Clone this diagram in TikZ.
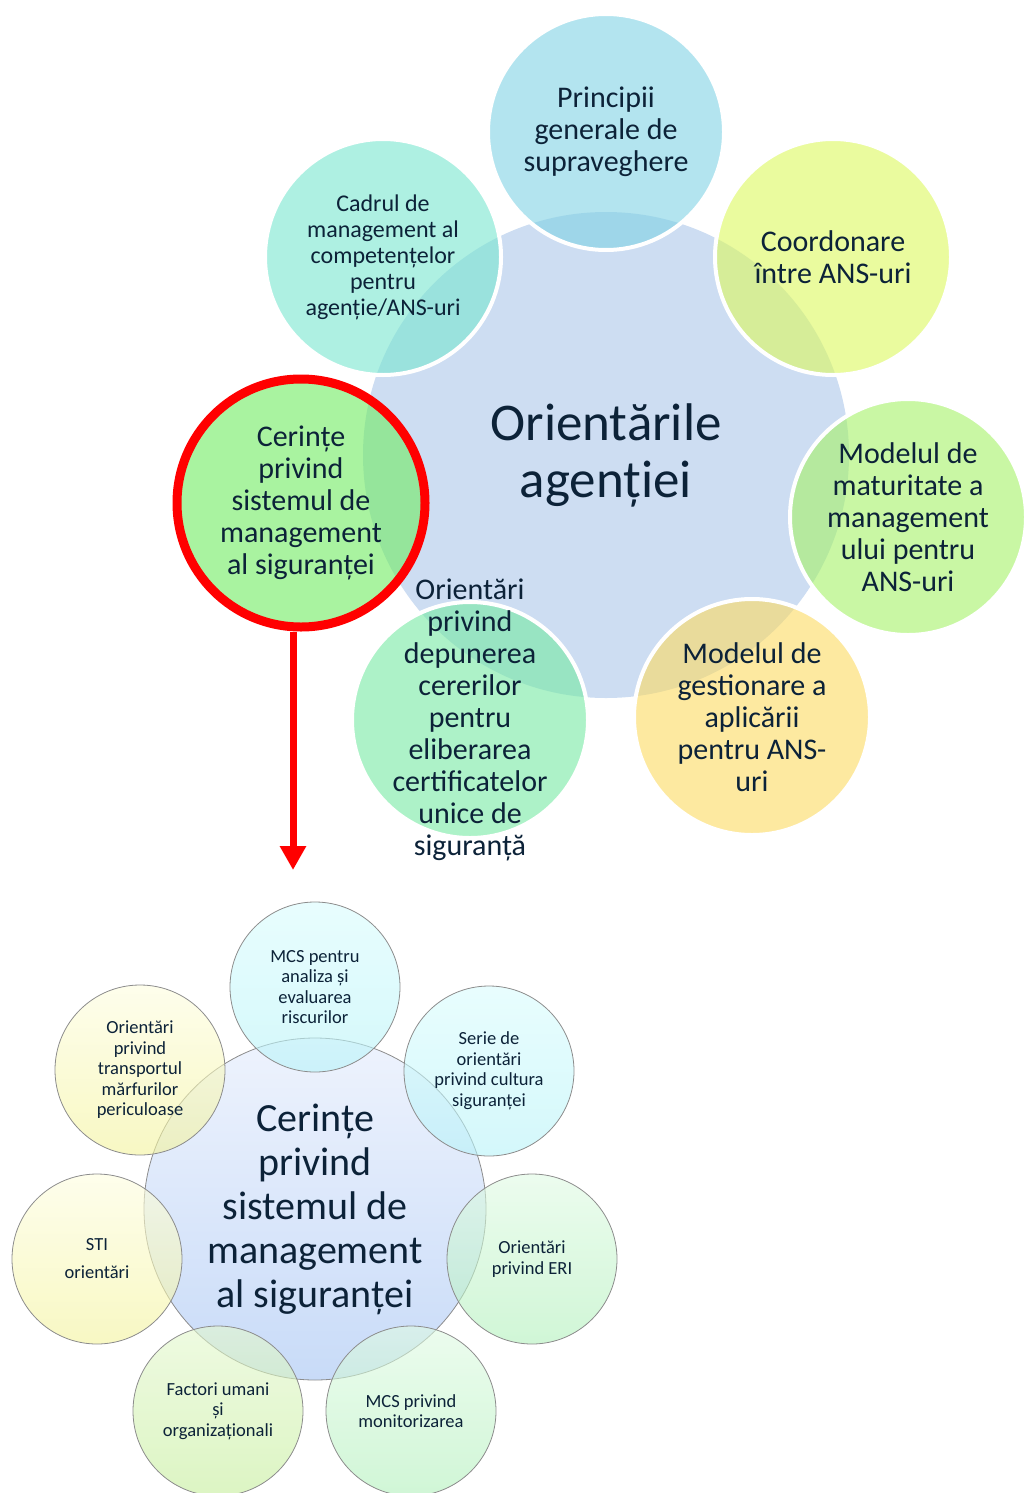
\documentclass[tikz,border=0pt]{standalone}
\usepackage{fontspec}
\setmainfont{Carlito}
\usetikzlibrary{positioning,arrows.meta}

\definecolor{ink}{RGB}{12,34,56}
\definecolor{hubfill}{RGB}{205,221,242}
\definecolor{cprincipii}{RGB}{128,210,228}
\definecolor{ccoord}{RGB}{220,248,93}
\definecolor{cmaturitate}{RGB}{165,242,103}
\definecolor{cgestionare}{RGB}{252,218,97}
\definecolor{cdepunere}{RGB}{118,233,163}
\definecolor{ccerinte}{RGB}{112,235,97}
\definecolor{ccadrul}{RGB}{120,230,207}
\definecolor{smshubtop}{RGB}{238,243,253}
\definecolor{smshubbot}{RGB}{200,219,248}
\definecolor{cyantop}{RGB}{217,252,253}
\definecolor{cyanbot}{RGB}{183,243,248}
\definecolor{greentop}{RGB}{223,250,227}
\definecolor{greenbot}{RGB}{177,240,187}
\definecolor{limetop}{RGB}{227,247,205}
\definecolor{limebot}{RGB}{197,238,155}
\definecolor{yellowtop}{RGB}{253,253,223}
\definecolor{yellowbot}{RGB}{243,243,155}
\definecolor{rim}{RGB}{140,140,140}

\begin{document}
\begin{tikzpicture}[x=1pt,y=-1pt,
    bubble/.style={circle, inner sep=0pt, minimum size=236pt, draw=white, line width=4pt, fill opacity=0.6, draw opacity=1},
    smallbubble/.style={circle, inner sep=0pt, minimum size=170pt, draw=rim, line width=0.8pt, fill opacity=0.6, draw opacity=1},
    label/.style={align=center, text=ink, inner sep=0pt, font=\fontsize{30}{32}\selectfont},
    smalllabel/.style={align=center, text=ink, inner sep=0pt, font=\fontsize{18.5}{20.5}\selectfont}]
    \useasboundingbox (0,0) rectangle (1023,1493);

    % agency guidelines
    \node[circle, inner sep=0pt, fill=hubfill, minimum size=486pt] (hub) at (606,455) {};
    \node[bubble, fill=cprincipii] (principii) at (606,132) {};
    \node[bubble, fill=ccoord] (coord) at (833,257) {};
    \node[bubble, fill=cmaturitate] (maturitate) at (908,517) {};
    \node[bubble, fill=cgestionare] (gestionare) at (752,717) {};
    \node[bubble, fill=cdepunere] (depunere) at (470,720) {};
    \node[bubble, fill=ccadrul] (cadrul) at (383,257) {};
    \node[bubble, fill=ccerinte, draw=red, line width=9pt, minimum size=248pt] (cerinte) at (301,503) {};

    \node[label, font=\fontsize{53}{57}\selectfont] (hub-t) at (hub) {Orientările\\agenției};
    \node[label] (principii-t) at (principii) {Principii\\generale de\\supraveghere};
    \node[label] (coord-t) at (coord) {Coordonare\\între ANS-uri};
    \node[label] (maturitate-t) at (maturitate) {Modelul de\\maturitate a\\management\\ului pentru\\ANS-uri};
    \node[label] (gestionare-t) at (gestionare) {Modelul de\\gestionare a\\aplicării\\pentru ANS-\\uri};
    \node[label] (depunere-t) at (depunere) {Orientări\\privind\\depunerea\\cererilor\\pentru\\eliberarea\\certificatelor\\unice de\\siguranță};
    \node[label, font=\fontsize{24}{26}\selectfont] (cadrul-t) at (cadrul) {Cadrul de\\management al\\competențelor\\pentru\\agenție/ANS-uri};
    \node[label] (cerinte-t) at (cerinte) {Cerințe\\privind\\sistemul de\\management\\al siguranței};

    \coordinate (arrowend) at (293,870);
    \draw[red, line width=7pt, -{Triangle[width=25pt,length=24pt]}] (cerinte.south -| arrowend) -- (arrowend);

    % safety management system
    \node[circle, inner sep=0pt, minimum size=342pt, draw=rim, line width=0.8pt, top color=smshubtop, bottom color=smshubbot] (sms) at (315,1209) {};
    \node[smallbubble, top color=cyantop, bottom color=cyanbot] (risc) at (315,987) {};
    \node[smallbubble, top color=cyantop, bottom color=cyanbot] (cultura) at (489,1071) {};
    \node[smallbubble, top color=greentop, bottom color=greenbot] (eri) at (532,1259) {};
    \node[smallbubble, top color=greentop, bottom color=greenbot] (monit) at (411,1411) {};
    \node[smallbubble, top color=limetop, bottom color=limebot] (factori) at (218,1411) {};
    \node[smallbubble, top color=yellowtop, bottom color=yellowbot] (sti) at (97,1259) {};
    \node[smallbubble, top color=yellowtop, bottom color=yellowbot] (transport) at (140,1070) {};

    \node[label, font=\fontsize{40}{44}\selectfont] (sms-t) at (sms) {Cerințe\\privind\\sistemul de\\management\\al siguranței};
    \node[smalllabel] (risc-t) at (risc) {MCS pentru\\analiza și\\evaluarea\\riscurilor};
    \node[smalllabel] (cultura-t) at (cultura) {Serie de\\orientări\\privind cultura\\siguranței};
    \node[smalllabel] (eri-t) at (eri) {Orientări\\privind ERI};
    \node[smalllabel] (monit-t) at (monit) {MCS privind\\monitorizarea};
    \node[smalllabel] (factori-t) at (factori) {Factori umani\\și\\organizaționali};
    \node[smalllabel] (sti-t) at (sti) {STI\\[7.5pt]orientări};
    \node[smalllabel] (transport-t) at (transport) {Orientări\\privind\\transportul\\mărfurilor\\periculoase};
\end{tikzpicture}
\end{document}
